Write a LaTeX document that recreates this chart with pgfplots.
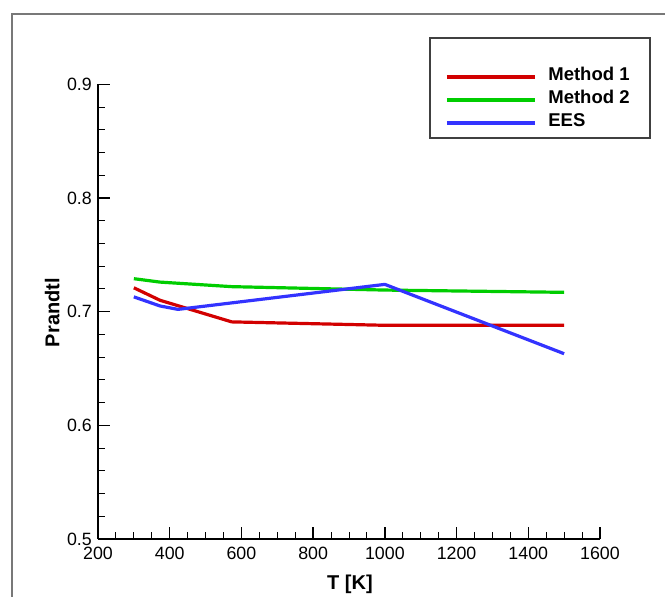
\documentclass[border=0pt]{standalone}
\usepackage{fontspec}
\setmainfont{Liberation Sans}
\usepackage{pgfplots}
\pgfplotsset{compat=1.18}
\definecolor{m1red}{RGB}{210,0,0}
\definecolor{m2green}{RGB}{0,205,0}
\definecolor{eesblue}{RGB}{51,51,255}
\definecolor{framegray}{RGB}{120,120,120}

\begin{document}
\begin{tikzpicture}
\path[use as bounding box] (0bp,0bp) rectangle (665bp,-597bp);
% outer frame (cut at right and bottom)
\draw[framegray, line width=1.8bp] (12bp,-597bp) -- (12bp,-14bp) -- (665bp,-14bp);
% legend box
\draw[black!75, line width=1.2bp] (430bp,-38bp) rectangle (650bp,-138bp);
\begin{axis}[
  at={(98bp,-539bp)}, anchor=south west,
  scale only axis, width=502bp, height=454.7bp,
  xmin=200, xmax=1600, ymin=0.5, ymax=0.9,
  axis lines*=left,
  axis line style={-, line width=1.3bp},
  xtick={200,400,...,1600},
  ytick={0.5,0.6,0.7,0.8,0.9},
  minor x tick num=3, minor y tick num=4,
  tick align=inside,
  major tick length=12bp, minor tick length=7bp,
  every major tick/.append style={line width=1.3bp, black},
  every minor tick/.append style={line width=1bp, black},
  /pgf/number format/assume math mode=true,
  yticklabel style={/pgf/number format/fixed, /pgf/number format/precision=1, /pgf/number format/fixed zerofill},
  xticklabel style={/pgf/number format/1000 sep={}},
  every tick label/.append style={font=\fontsize{17.8bp}{19bp}\selectfont, inner sep=0pt},
  xticklabel style={yshift=-7.5bp},
  yticklabel style={xshift=-6bp},
  every axis x label/.style={at={(axis description cs:0.502,-0.110)}, anchor=base,
    font=\fontsize{20bp}{22bp}\selectfont\bfseries},
  every axis y label/.style={at={(axis description cs:-0.0771,0.498)}, anchor=base, rotate=90,
    font=\fontsize{20bp}{22bp}\selectfont\bfseries},
  xlabel={T [K]},
  ylabel={Prandtl},
  legend cell align=left,
  legend image code/.code={\draw[#1] (0bp,0bp) -- (88bp,0bp);},
  legend style={at={(axis description cs:0.6912,1.042)}, anchor=north west,
    draw=none, fill=none, inner sep=0pt, row sep=0pt, column sep=12bp,
    nodes={inner sep=0pt, text height=15bp, text depth=8bp,
      font=\fontsize{18.5bp}{20bp}\selectfont\bfseries}},
]
\addplot[m1red, line width=3.2bp, line join=round] coordinates {
  (300,0.721) (373,0.710) (573,0.691) (1000,0.688) (1500,0.688)
};
\addlegendentry{Method 1}
\addplot[m2green, line width=3.2bp, line join=round] coordinates {
  (300,0.729) (373,0.726) (573,0.722) (1000,0.719) (1500,0.717)
};
\addlegendentry{Method 2}
\addplot[eesblue, line width=3.2bp, line join=round] coordinates {
  (300,0.713) (373,0.705) (423,0.702) (1000,0.724) (1500,0.663)
};
\addlegendentry{EES}
\end{axis}
\end{tikzpicture}
\end{document}
